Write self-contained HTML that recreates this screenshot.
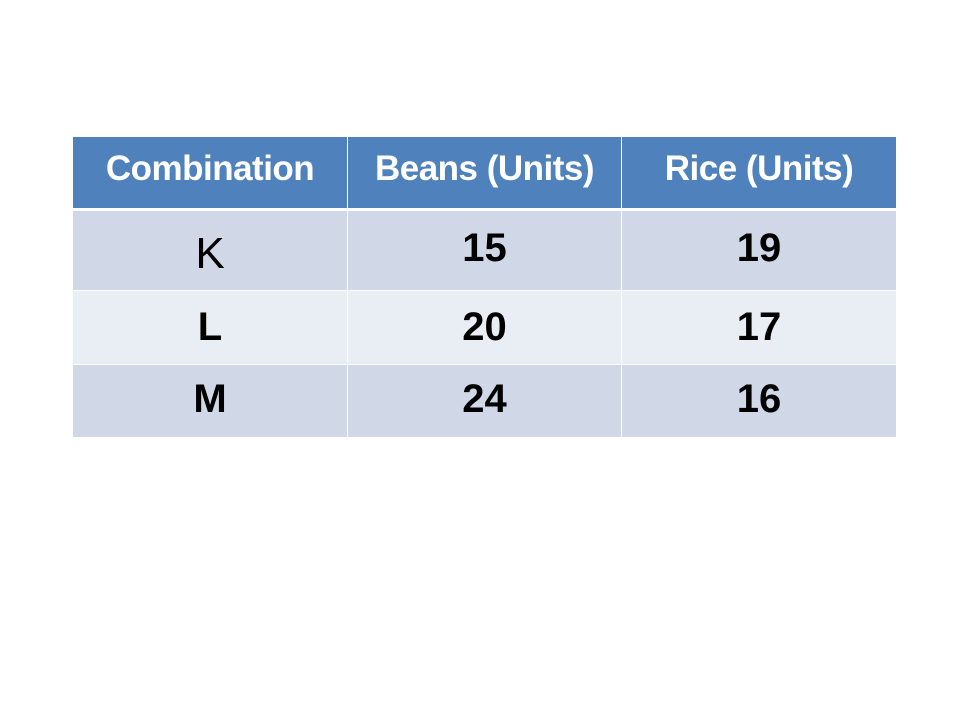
<!DOCTYPE html>
<html><head><meta charset="utf-8"><style>
body{margin:0;width:960px;height:720px;background:#fff;position:relative;font-family:"Liberation Sans",sans-serif;overflow:hidden}
.c{position:absolute;display:flex;align-items:center;justify-content:center;box-sizing:border-box;color:#000;font-weight:bold}
.h{background:#4f81bd;color:#fff;font-size:35px;padding-bottom:7px;letter-spacing:-0.5px}
.r1{background:#d0d8e8;font-size:40px;padding-bottom:4px}
.r2{background:#e9edf4;font-size:40px}
</style></head><body>
<div id="t"></div>
<script>
const headers=["Combination","Beans (Units)","Rice (Units)"];
const combos=["K","L","M"];
const beans=[15,20,24];
const rice=[19,17,16];
const colX=[73,348,622], colW=[274,273,274];
const rowY=[137,211,291,365], rowH=[71,79,73,72];
const t=document.getElementById('t');
function cell(txt,ci,ri,cls,name){
  const d=document.createElement('div');
  d.className='c '+cls;
  d.style.left=colX[ci]+'px';d.style.top=rowY[ri]+'px';
  d.style.width=colW[ci]+'px';d.style.height=rowH[ri]+'px';
  d.textContent=txt;
  
  
  t.appendChild(d);return d;
}
headers.forEach((h,i)=>cell(h,i,0,'h','header-cell'));
combos.forEach((c,i)=>{
  const cls=i%2===0?'r1':'r2';
  const k=cell(c,0,i+1,cls,'combination-cell');
  if(c==='K'){k.style.fontWeight='normal';k.style.fontSize='44px';k.style.paddingBottom='0';k.style.paddingTop='6px';}
  cell(String(beans[i]),1,i+1,cls,'beans-cell');
  cell(String(rice[i]),2,i+1,cls,'rice-cell');
});
</script>
</body></html>
